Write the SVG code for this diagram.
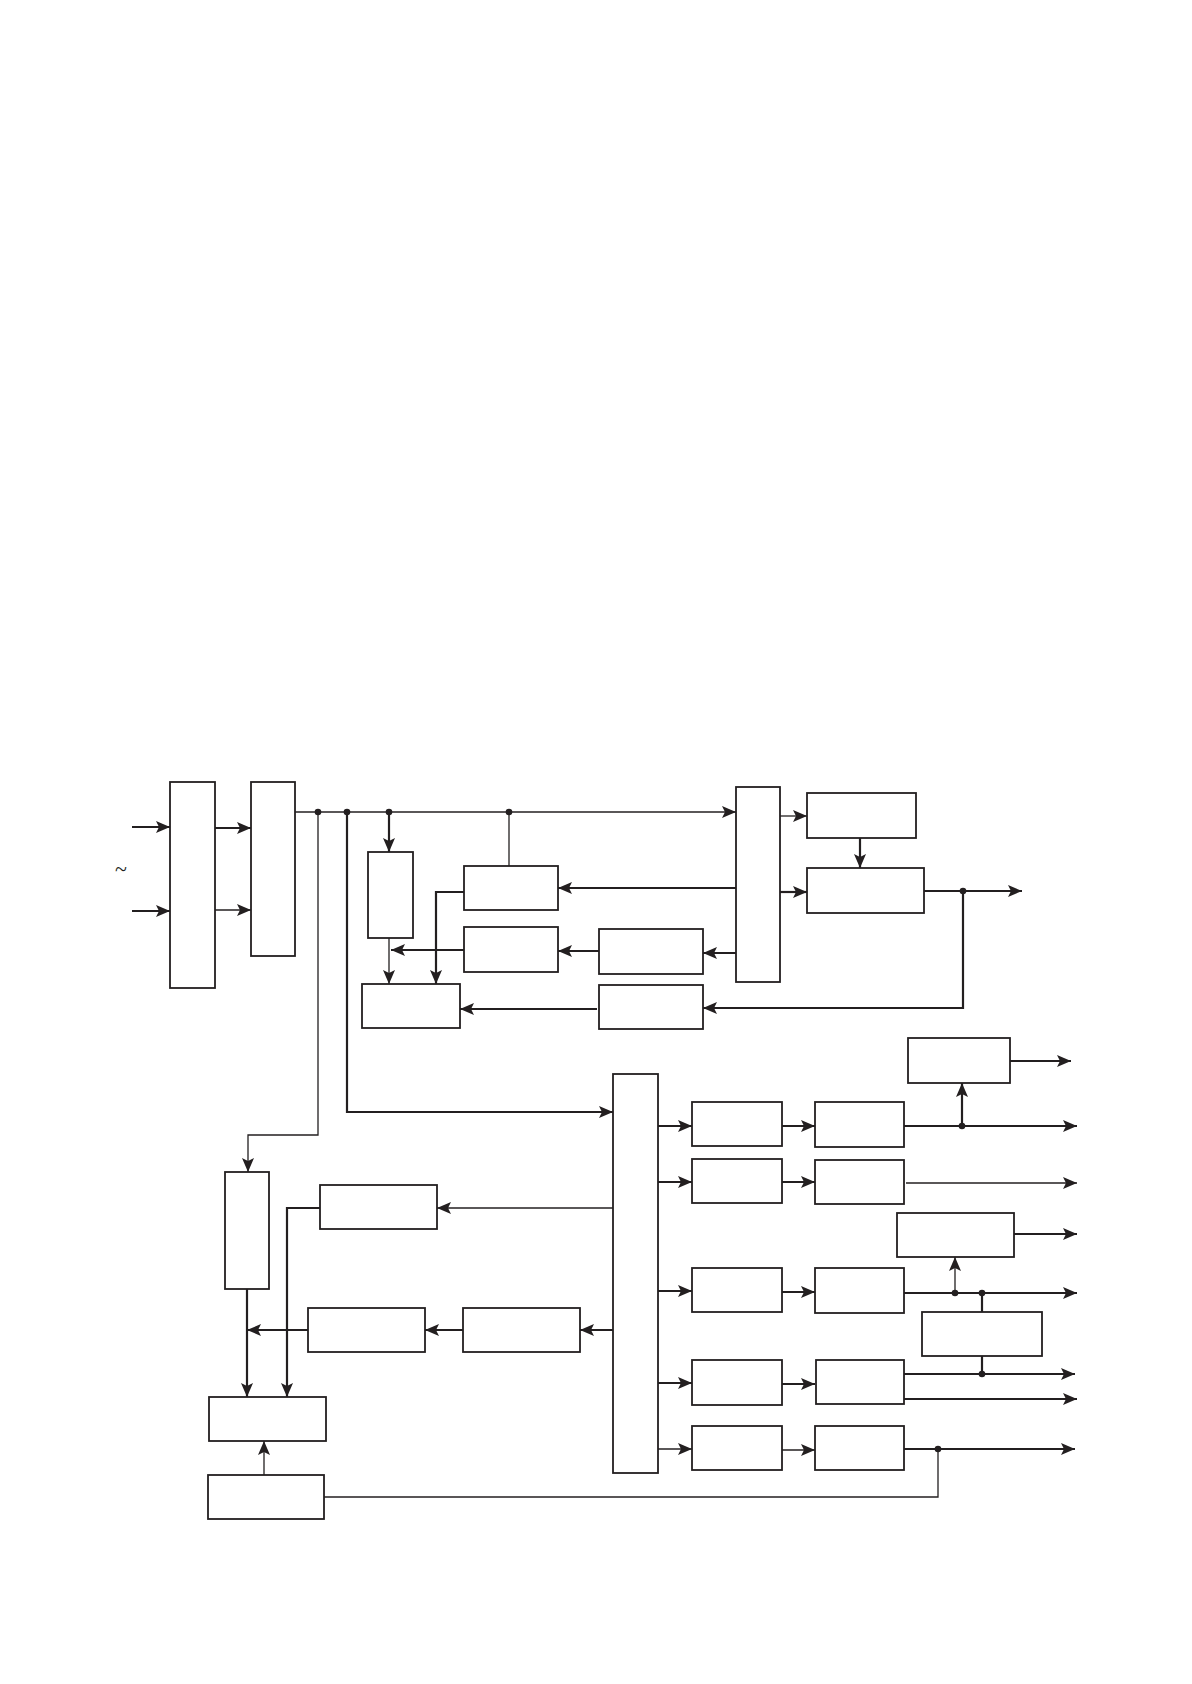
<svg xmlns="http://www.w3.org/2000/svg" width="1192" height="1684" viewBox="0 0 1192 1684">
<style>
.box{fill:#fff;stroke:#231f20;stroke-width:1.8}
.thk{fill:none;stroke:#231f20;stroke-width:2.2}
.thn{fill:none;stroke:#231f20;stroke-width:1.3}
.dot{fill:#231f20}
.arr{marker-end:url(#ah)}
</style>
<defs>
<marker id="ah" viewBox="0 0 14 12" refX="14" refY="6" markerWidth="14" markerHeight="12" orient="auto" markerUnits="userSpaceOnUse">
<path d="M0,0 L14,6 L0,12 L3,6 z" fill="#231f20"/>
</marker>
</defs>
<rect width="1192" height="1684" fill="#fff"/>
<text x="121" y="876" font-family="Liberation Serif, serif" font-size="22" text-anchor="middle" fill="#231f20">~</text>
<g id="connectors">
<path class="thk arr" d="M132,827 H170"/>
<path class="thk arr" d="M132,911 H170"/>
<path class="thk arr" d="M215,828 H251"/>
<path class="thn arr" d="M215,910 H251"/>
<path class="thn arr" d="M295,812 H736"/>
<path class="thk arr" d="M389,812 V852"/>
<path class="thn" d="M509,812 V866"/>
<path class="thn arr" d="M318,812 V1135 H248 V1172"/>
<path class="thk arr" d="M347,812 V1112 H613"/>
<path class="thk arr" d="M464,892 H436 V984"/>
<path class="thk arr" d="M464,950 H391"/>
<path class="thn arr" d="M389,938 V984"/>
<path class="thk arr" d="M736,888 H558"/>
<path class="thk arr" d="M736,953 H703"/>
<path class="thk arr" d="M599,951 H558"/>
<path class="thk arr" d="M597,1009 H460"/>
<path class="thn arr" d="M780,816 H807"/>
<path class="thk arr" d="M780,892 H807"/>
<path class="thk arr" d="M860,838 V868"/>
<path class="thk arr" d="M924,891 H1022"/>
<path class="thk arr" d="M963,891 V1008 H703"/>
<path class="thn arr" d="M613,1208 H437"/>
<path class="thk arr" d="M320,1208 H287 V1397"/>
<path class="thk arr" d="M613,1330 H580"/>
<path class="thk arr" d="M463,1330 H425"/>
<path class="thk arr" d="M308,1330 H247"/>
<path class="thk arr" d="M247,1289 V1397"/>
<path class="thn arr" d="M264,1475 V1441"/>
<path class="thn" d="M324,1497 H938 V1449"/>
<path class="thk arr" d="M658,1126 H692"/>
<path class="thk arr" d="M782,1126 H815"/>
<path class="thk arr" d="M904,1126 H1077"/>
<path class="thk arr" d="M962,1126 V1083"/>
<path class="thk arr" d="M1010,1061 H1071"/>
<path class="thk arr" d="M658,1182 H692"/>
<path class="thk arr" d="M782,1182 H815"/>
<path class="thn arr" d="M906,1183 H1077"/>
<path class="thk arr" d="M1014,1234 H1077"/>
<path class="thk arr" d="M658,1291 H692"/>
<path class="thk arr" d="M782,1292 H815"/>
<path class="thk arr" d="M904,1293 H1077"/>
<path class="thn arr" d="M955,1293 V1257"/>
<path class="thk" d="M982,1293 V1312"/>
<path class="thk arr" d="M658,1383 H692"/>
<path class="thk arr" d="M782,1384 H815"/>
<path class="thk arr" d="M904,1374 H1075"/>
<path class="thk" d="M982,1356 V1374"/>
<path class="thk arr" d="M904,1399 H1077"/>
<path class="thn arr" d="M658,1449 H692"/>
<path class="thn arr" d="M782,1450 H815"/>
<path class="thk arr" d="M904,1449 H1075"/>
<circle class="dot" cx="318" cy="812" r="3.3"/>
<circle class="dot" cx="347" cy="812" r="3.3"/>
<circle class="dot" cx="389" cy="812" r="3.3"/>
<circle class="dot" cx="509" cy="812" r="3.3"/>
<circle class="dot" cx="963" cy="891" r="3.3"/>
<circle class="dot" cx="962" cy="1126" r="3.3"/>
<circle class="dot" cx="955" cy="1293" r="3.3"/>
<circle class="dot" cx="982" cy="1293" r="3.3"/>
<circle class="dot" cx="982" cy="1374" r="3.3"/>
<circle class="dot" cx="938" cy="1449" r="3.3"/>
</g>
<g id="nA"><rect class="box" x="170" y="782" width="45" height="206"/></g>
<g id="nB"><rect class="box" x="251" y="782" width="44" height="174"/></g>
<g id="nC"><rect class="box" x="368" y="852" width="45" height="86"/></g>
<g id="nD"><rect class="box" x="464" y="866" width="94" height="44"/></g>
<g id="nE"><rect class="box" x="464" y="927" width="94" height="45"/></g>
<g id="nF"><rect class="box" x="362" y="984" width="98" height="44"/></g>
<g id="nG"><rect class="box" x="736" y="787" width="44" height="195"/></g>
<g id="nH"><rect class="box" x="599" y="929" width="104" height="45"/></g>
<g id="nI"><rect class="box" x="599" y="985" width="104" height="44"/></g>
<g id="nJ"><rect class="box" x="807" y="793" width="109" height="45"/></g>
<g id="nK"><rect class="box" x="807" y="868" width="117" height="45"/></g>
<g id="nL"><rect class="box" x="225" y="1172" width="44" height="117"/></g>
<g id="nM"><rect class="box" x="613" y="1074" width="45" height="399"/></g>
<g id="nN"><rect class="box" x="320" y="1185" width="117" height="44"/></g>
<g id="nO"><rect class="box" x="308" y="1308" width="117" height="44"/></g>
<g id="nQ"><rect class="box" x="463" y="1308" width="117" height="44"/></g>
<g id="nP"><rect class="box" x="209" y="1397" width="117" height="44"/></g>
<g id="nR"><rect class="box" x="208" y="1475" width="116" height="44"/></g>
<g id="nS1"><rect class="box" x="692" y="1102" width="90" height="44"/></g>
<g id="nT1"><rect class="box" x="815" y="1102" width="89" height="45"/></g>
<g id="nU1"><rect class="box" x="908" y="1038" width="102" height="45"/></g>
<g id="nS2"><rect class="box" x="692" y="1159" width="90" height="44"/></g>
<g id="nT2"><rect class="box" x="815" y="1160" width="89" height="44"/></g>
<g id="nU2"><rect class="box" x="897" y="1213" width="117" height="44"/></g>
<g id="nS3"><rect class="box" x="692" y="1268" width="90" height="44"/></g>
<g id="nT3"><rect class="box" x="815" y="1268" width="89" height="45"/></g>
<g id="nV"><rect class="box" x="922" y="1312" width="120" height="44"/></g>
<g id="nS4"><rect class="box" x="692" y="1360" width="90" height="45"/></g>
<g id="nT4"><rect class="box" x="816" y="1360" width="88" height="44"/></g>
<g id="nS5"><rect class="box" x="692" y="1426" width="90" height="44"/></g>
<g id="nT5"><rect class="box" x="815" y="1426" width="89" height="44"/></g>
</svg>
